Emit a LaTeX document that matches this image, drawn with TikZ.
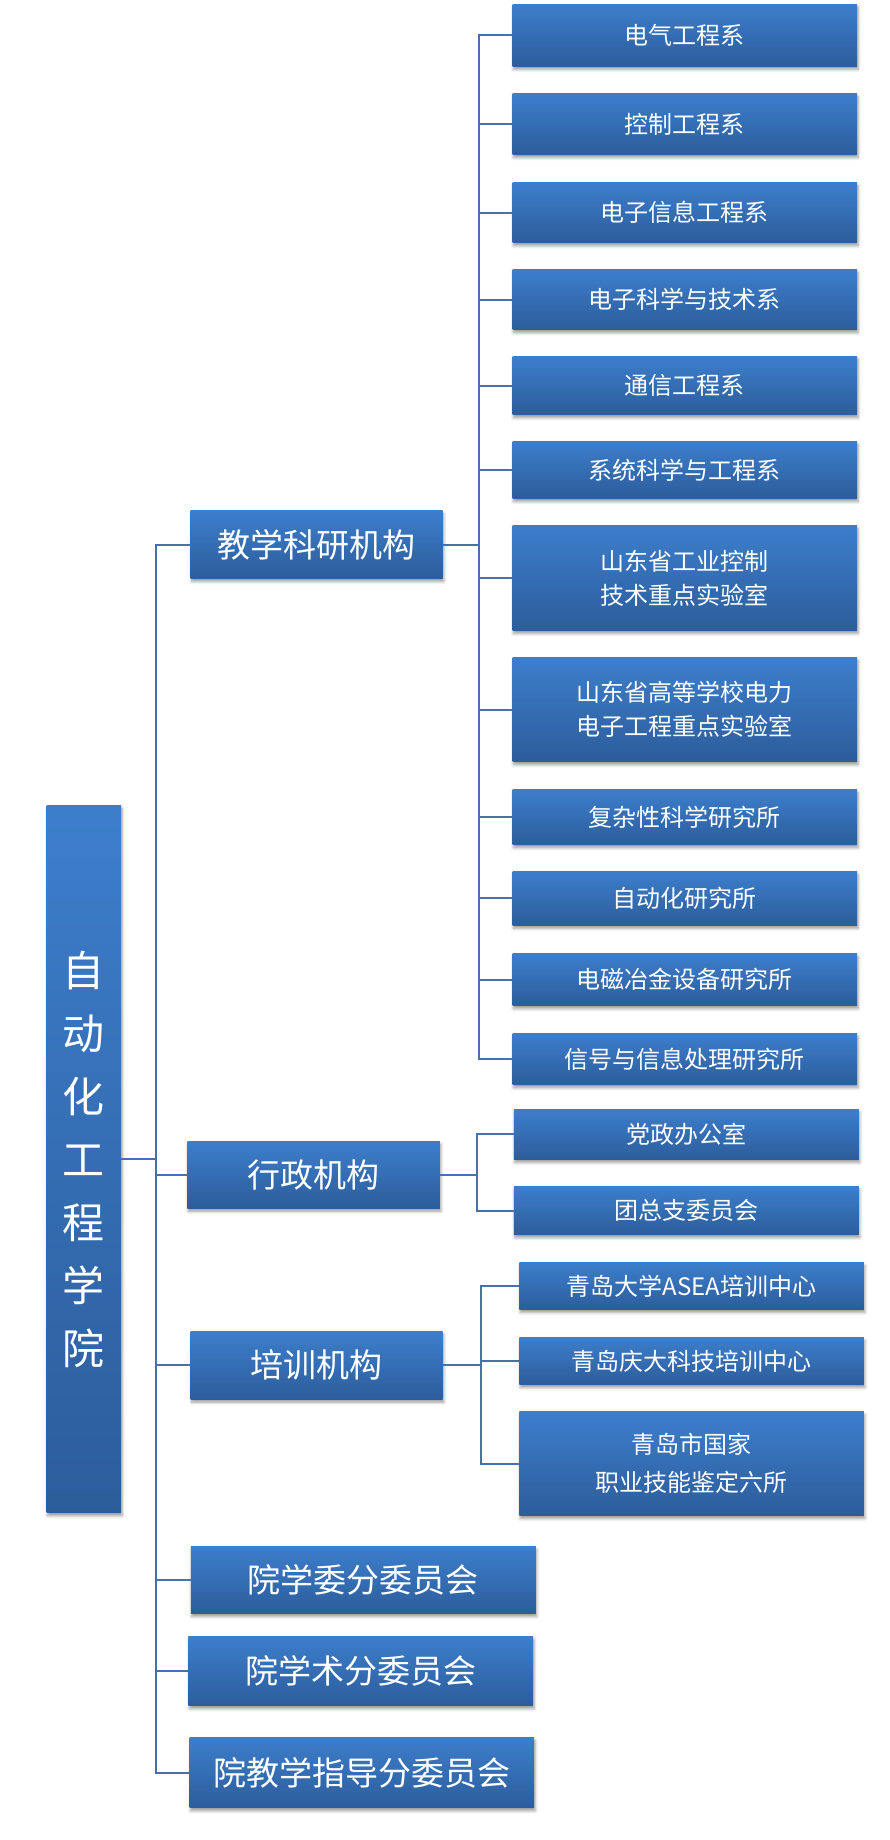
\documentclass[tikz,border=0pt]{standalone}
\usepackage{fontspec}
\setmainfont{Noto Sans CJK SC}
\usetikzlibrary{shadows.blur}

\definecolor{boxtop}{RGB}{61,126,204}
\definecolor{boxbot}{RGB}{44,93,155}
\definecolor{linecol}{RGB}{72,112,172}

\tikzset{
  box/.style={rectangle, inner sep=0pt, draw=none,
    top color=boxtop, bottom color=boxbot, text=white, align=center,
    blur shadow={shadow xshift=1pt, shadow yshift=-3pt,
                 shadow blur radius=3pt, shadow opacity=40}},
  unitbox/.style={box, font=\fontsize{24}{34}\selectfont},
  groupbox/.style={box, font=\fontsize{33}{40}\selectfont},
  wire/.style={draw=linecol, line width=2pt},
}

\begin{document}
\begin{tikzpicture}[x=1pt, y=-1pt]
\useasboundingbox (0,0) rectangle (890,1840);

% college
\node[box, minimum width=74.5pt, minimum height=707.5pt,
      font=\fontsize{42}{63}\selectfont] (root) at (83.75,1159)
      {自\\动\\化\\工\\程\\学\\院};

% first level
\node[groupbox, minimum width=252pt, minimum height=67.6pt] (edu) at (316.7,544.7) {教学科研机构};
\node[groupbox, minimum width=252.6pt, minimum height=67pt] (adm) at (313.6,1174.75) {行政机构};
\node[groupbox, minimum width=252pt, minimum height=67.8pt] (trn) at (316.7,1365.3) {培训机构};
\node[groupbox, minimum width=345pt, minimum height=67pt] (com1) at (363.3,1580) {院学委分委员会};
\node[groupbox, minimum width=344.6pt, minimum height=69.4pt] (com2) at (360.7,1671) {院学术分委员会};
\node[groupbox, minimum width=344.5pt, minimum height=70.2pt] (com3) at (361.9,1772.7) {院教学指导分委员会};

% teaching and research units
\begin{scope}[every node/.append style={unitbox, minimum width=344.5pt}]
\node[minimum height=62.4pt] (e1) at (684.75,35.2) {电气工程系};
\node[minimum height=61.3pt] (e2) at (684.75,124) {控制工程系};
\node[minimum height=60.5pt] (e3) at (684.75,212.5) {电子信息工程系};
\node[minimum height=60.5pt] (e4) at (684.75,299.5) {电子科学与技术系};
\node[minimum height=58.5pt] (e5) at (684.75,385.5) {通信工程系};
\node[minimum height=57.3pt] (e6) at (684.75,470) {系统科学与工程系};
\node[minimum height=105pt] (e7) at (684.75,578) {山东省工业控制\\技术重点实验室};
\node[minimum height=104.4pt] (e8) at (684.75,709.5) {山东省高等学校电力\\电子工程重点实验室};
\node[minimum height=55.4pt] (e9) at (684.75,817) {复杂性科学研究所};
\node[minimum height=54pt] (e10) at (684.75,898.3) {自动化研究所};
\node[minimum height=52pt] (e11) at (684.75,979.6) {电磁冶金设备研究所};
\node[minimum height=51.4pt] (e12) at (684.75,1059) {信号与信息处理研究所};
\end{scope}

% administration units
\begin{scope}[every node/.append style={unitbox, minimum width=345pt}]
\node[minimum height=50.2pt] (a1) at (686.25,1134.4) {党政办公室};
\node[minimum height=48.3pt] (a2) at (686.25,1210.5) {团总支委员会};
\end{scope}

% training units
\begin{scope}[every node/.append style={unitbox, minimum width=344.6pt}]
\node[minimum height=47pt] (t1) at (691.6,1285.9) {青岛大学ASEA培训中心};
\node[minimum height=47pt] (t2) at (691.6,1361) {青岛庆大科技培训中心};
\node[minimum height=104pt, font=\fontsize{24}{38}\selectfont] (t3) at (691.6,1463.5) {青岛市国家\\职业技能鉴定六所};
\end{scope}

% connectors
\coordinate (rj) at (155.5,1159);
\draw[wire] (root.east) -- (rj);
\foreach \n in {edu,adm,trn,com1,com2,com3}
  \draw[wire] (rj) |- (\n.west);

\coordinate (ej) at (478.5,544.7);
\draw[wire] (edu.east) -- (ej);
\foreach \i in {1,...,12}
  \draw[wire] (ej) |- (e\i.west);

\coordinate (aj) at (476.8,1174.75);
\draw[wire] (adm.east) -- (aj);
\foreach \n in {a1,a2}
  \draw[wire] (aj) |- (\n.west);

\coordinate (tj) at (481.3,1365.3);
\draw[wire] (trn.east) -- (tj);
\foreach \n in {t1,t2,t3}
  \draw[wire] (tj) |- (\n.west);
\end{tikzpicture}
\end{document}
